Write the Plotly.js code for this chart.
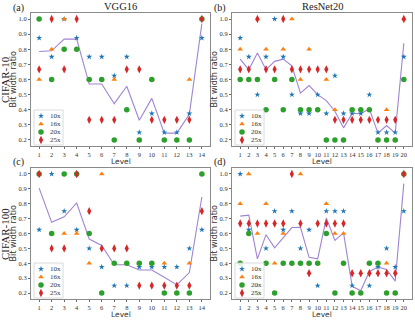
<!DOCTYPE html>
<html><head><meta charset="utf-8">
<script src="https://cdn.plot.ly/plotly-3.0.1.min.js"></script>
<style>html,body{margin:0;padding:0;background:#fff}#chart{width:415px;height:320px}</style>
</head><body><div id="chart"></div>
<script>
// ---------- data ----------
const levelsVGG = [1,2,3,4,5,6,7,8,9,10,11,12,13,14];
const levelsRes = [1,2,3,4,5,6,7,8,9,10,11,12,13,14,15,16,17,18,19,20];
const seriesNames = ['10x','16x','20x','25x'];
const yTicks = [0.2,0.3,0.4,0.5,0.6,0.7,0.8,0.9,1.0];

// (a) VGG16 / CIFAR-10
const a10 = [0.875,0.75,1.0,0.875,0.75,0.75,0.625,0.75,0.25,0.375,0.25,0.25,0.375,0.875];
const a16 = [0.6,0.8,1.0,0.8,0.6,0.6,0.6,0.4,0.2,0.6,0.2,0.2,0.6,1.0];
const a20 = [1.0,0.6,0.8,0.8,0.6,0.6,0.2,0.4,0.2,0.6,0.2,0.2,0.2,1.0];
const a25 = [0.667,1.0,0.667,1.0,0.333,0.333,0.333,0.667,0.667,0.333,0.333,0.333,0.333,1.0];
const aAvg = [0.785,0.79,0.867,0.867,0.57,0.57,0.44,0.555,0.33,0.475,0.245,0.245,0.37,0.97];

// (b) ResNet20 / CIFAR-10
const b10 = [0.875,0.75,0.5,0.75,1.0,0.75,0.5,0.375,0.375,0.5,0.375,0.625,0.375,0.375,0.375,0.5,0.25,0.25,0.25,0.75];
const b16 = [0.8,0.6,1.0,0.8,0.6,0.8,1.0,0.6,0.8,0.4,0.6,0.4,0.2,0.4,0.4,0.4,0.2,0.4,0.2,1.0];
const b20 = [0.6,0.6,0.6,0.4,0.6,0.4,0.6,0.4,0.4,0.4,0.2,0.2,0.2,0.4,0.4,0.4,0.2,0.2,0.2,0.6];
const b25 = [0.667,0.667,1.0,0.667,0.667,1.0,0.667,0.667,0.667,0.667,0.667,0.333,0.333,0.333,0.333,0.333,0.333,0.333,0.333,1.0];
const bAvg = [0.735,0.665,0.775,0.665,0.72,0.735,0.69,0.51,0.56,0.5,0.46,0.39,0.28,0.375,0.375,0.405,0.245,0.295,0.245,0.84];

// (c) VGG16 / CIFAR-100
const c10 = [0.625,1.0,0.75,0.625,0.5,0.375,0.25,0.25,0.375,0.375,0.375,0.375,0.5,0.625];
const c16 = [1.0,0.6,0.6,0.6,0.4,1.0,0.4,0.4,0.4,0.4,0.4,0.2,0.4,1.0];
const c20 = [1.0,0.6,1.0,1.0,0.6,0.2,0.4,0.4,0.4,0.4,0.2,0.2,0.2,1.0];
const c25 = [1.0,0.5,0.5,1.0,0.75,0.5,0.5,0.5,0.25,0.25,0.25,0.25,0.25,0.75];
const cAvg = [0.905,0.675,0.7125,0.805,0.5625,0.52,0.39,0.39,0.355,0.355,0.306,0.255,0.3375,0.845];

// (d) ResNet20 / CIFAR-100
const d10 = [1.0,0.625,0.25,0.5,0.75,0.625,0.75,0.5,0.625,0.25,0.75,0.75,0.75,0.25,0.125,0.25,0.375,0.5,0.375,0.75];
const d16 = [0.8,1.0,0.6,0.8,0.4,0.6,0.4,1.0,0.4,0.4,0.8,0.6,0.6,0.2,0.2,0.4,0.4,0.4,0.2,1.0];
const d20 = [0.4,0.6,0.2,0.4,0.2,0.4,0.4,0.4,0.4,0.4,0.6,0.2,0.4,0.2,0.2,0.4,0.4,0.2,0.2,1.0];
const d25 = [0.667,0.667,0.667,0.667,0.667,0.667,1.0,0.667,0.333,0.667,0.667,0.667,0.667,0.333,0.333,0.333,0.333,0.333,0.333,1.0];
const dAvg = [0.717,0.723,0.43,0.592,0.504,0.573,0.64,0.642,0.44,0.43,0.704,0.554,0.604,0.245,0.215,0.345,0.375,0.358,0.28,0.935];

// ---------- styling ----------
const W = 415, H = 320;
const px = v => v / W, py = v => 1 - v / H;
const colors = ['#1f77b4','#ff7f0e','#2ca02c','#d62728'];
const symbols = ['star','triangle-up','circle','diamond-tall'];
const sizes = [4.5,5,5.5,6];
const lineColor = '#9f84d2';
const SERIF = 'Liberation Serif, Times New Roman, serif';
const SANS = 'DejaVu Sans, sans-serif';

// panel boxes in pixels: left, right, top, bottom
const panels = [
  {levels: levelsVGG, s: [a10,a16,a20,a25], avg: aAvg, box: [31,210,13,146]},
  {levels: levelsRes, s: [b10,b16,b20,b25], avg: bAvg, box: [232,412,13,146]},
  {levels: levelsVGG, s: [c10,c16,c20,c25], avg: cAvg, box: [31,210,168,299]},
  {levels: levelsRes, s: [d10,d16,d20,d25], avg: dAvg, box: [232,412,168,299]}
];

const traces = [];
const layout = {
  width: W, height: H,
  margin: {l:0, r:0, t:0, b:0},
  paper_bgcolor: '#fff', plot_bgcolor: 'rgba(0,0,0,0)',
  showlegend: false,
  annotations: [], shapes: []
};

panels.forEach((p, i) => {
  const n = i + 1;
  const xa = n === 1 ? 'x' : 'x' + n, ya = n === 1 ? 'y' : 'y' + n;
  const [L, R, T, B] = p.box;
  traces.push({x: p.levels, y: p.avg, xaxis: xa, yaxis: ya, type: 'scatter', mode: 'lines',
    line: {color: lineColor, width: 1.1}, hoverinfo: 'skip'});
  p.s.forEach((vals, k) => {
    traces.push({x: p.levels, y: vals, xaxis: xa, yaxis: ya, type: 'scatter', mode: 'markers',
      name: seriesNames[k],
      marker: {symbol: symbols[k], size: sizes[k], color: colors[k], line: {width: 0}}});
  });
  const nLev = p.levels.length;
  const pad = (nLev - 1) * 0.05;
  const axCommon = {showgrid: false, zeroline: false, showline: true, mirror: true,
    linecolor: '#8a8a8a', linewidth: 1, ticks: 'outside', ticklen: 2, tickwidth: 0.8,
    tickcolor: '#444', tickfont: {family: SERIF, size: 6.5, color: '#333'}, fixedrange: true};
  layout['xaxis' + (n === 1 ? '' : n)] = Object.assign({}, axCommon, {
    domain: [px(L), px(R)], anchor: ya, tickangle: 0,
    range: [p.levels[0] - pad, p.levels[nLev - 1] + pad],
    tickmode: 'array', tickvals: p.levels, ticktext: p.levels.map(String)
  });
  layout['yaxis' + (n === 1 ? '' : n)] = Object.assign({}, axCommon, {
    domain: [py(B), py(T)], anchor: xa,
    range: [0.16, 1.04],
    tickmode: 'array', tickvals: yTicks, ticktext: yTicks.map(v => v.toFixed(1))
  });
  // axis titles
  layout.annotations.push({text: 'Level', xref: 'paper', yref: 'paper',
    x: px((L + R) / 2), y: py(B + 15.5), xanchor: 'center', yanchor: 'middle', showarrow: false,
    font: {family: SANS, size: 7.5, color: '#333'}});
  layout.annotations.push({text: 'Bit width ratio', xref: 'paper', yref: 'paper',
    x: px(L - 18), y: py((T + B) / 2), xanchor: 'center', yanchor: 'middle', textangle: -90,
    showarrow: false, font: {family: SANS, size: 8, color: '#333'}});

  // manual legend box on overlay axis
  const lx = L + 3, lt = B - 36, lb = B - 1, lr = lx + 29;
  traces.push({x: [lx, lr, lr, lx, lx], y: [lt, lt, lb, lb, lt], xaxis: 'x5', yaxis: 'y5',
    type: 'scatter', mode: 'lines', fill: 'toself', fillcolor: 'rgba(255,255,255,0.85)',
    line: {color: '#d0d0d0', width: 0.8}, hoverinfo: 'skip'});
  seriesNames.forEach((nm, k) => {
    const ry = lt + 6 + 8 * k;
    traces.push({x: [lx + 7], y: [ry], xaxis: 'x5', yaxis: 'y5', type: 'scatter', mode: 'markers',
      marker: {symbol: symbols[k], size: sizes[k], color: colors[k], line: {width: 0}}, hoverinfo: 'skip'});
    layout.annotations.push({text: nm, xref: 'x5', yref: 'y5', x: lx + 14, y: ry,
      xanchor: 'left', yanchor: 'middle', showarrow: false,
      font: {family: SERIF, size: 7, color: '#333'}});
  });
});

layout.xaxis5 = {domain: [0, 1], range: [0, W], visible: false, fixedrange: true, anchor: 'y5'};
layout.yaxis5 = {domain: [0, 1], range: [H, 0], visible: false, fixedrange: true, anchor: 'x5'};

// titles, panel letters, row labels
const txt = (t, x, y, size, fam, extra) => layout.annotations.push(Object.assign({
  text: t, xref: 'paper', yref: 'paper', x: px(x), y: py(y), xanchor: 'center', yanchor: 'middle',
  showarrow: false, font: {family: fam, size: size, color: '#222'}}, extra || {}));
txt('VGG16', 120, 6, 10.5, SERIF);
txt('ResNet20', 322, 6, 10.5, SERIF);
txt('(a)', 18, 8, 10, SERIF);
txt('(b)', 220, 8, 10, SERIF);
txt('(c)', 18, 162, 10, SERIF);
txt('(d)', 220, 162, 10, SERIF);
txt('CIFAR-10', 5, 80, 11, SERIF, {textangle: -90});
txt('CIFAR-100', 5, 234, 11, SERIF, {textangle: -90});

Plotly.newPlot('chart', traces, layout, {displayModeBar: false, staticPlot: true});
</script>
</body></html>
